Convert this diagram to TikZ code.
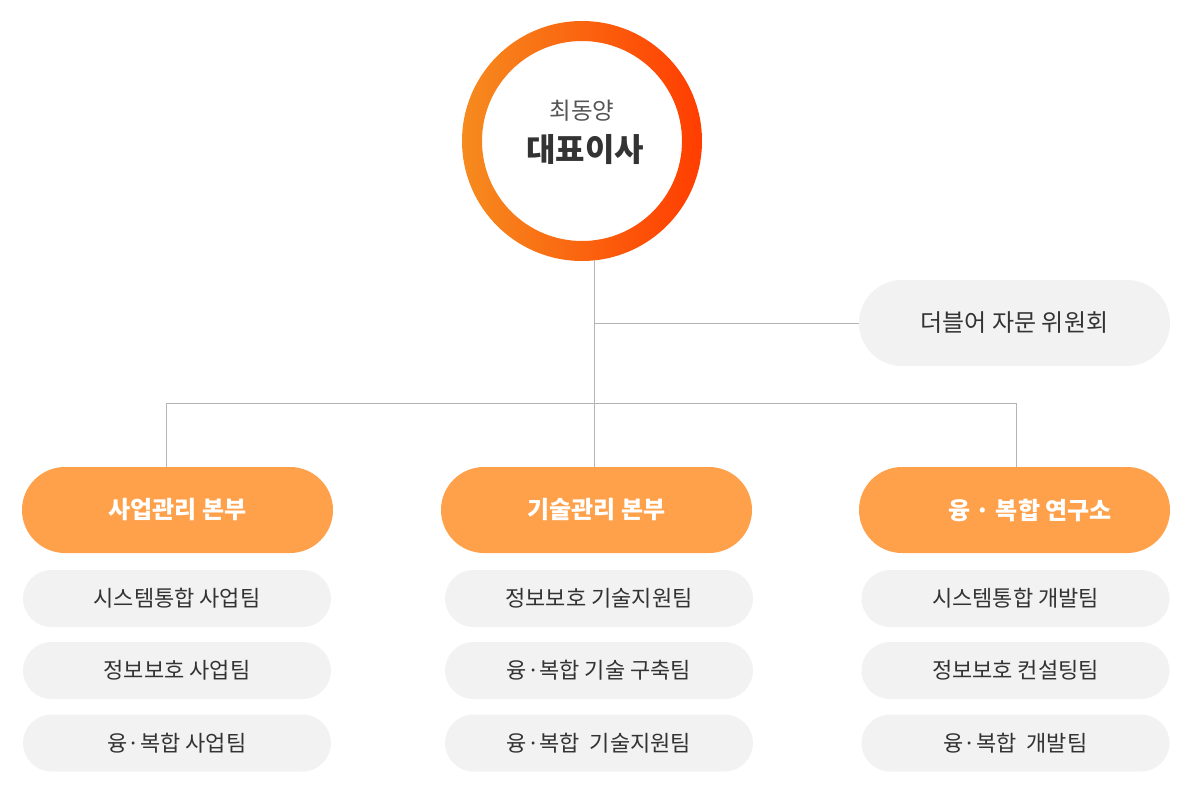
\documentclass[tikz,border=0pt]{standalone}
\usepackage{fontspec}
\setmainfont{Noto Sans CJK KR}
\definecolor{ringL}{HTML}{F68B1F}
\definecolor{ringR}{HTML}{FF3D00}
\definecolor{hqorange}{HTML}{FFA04B}
\definecolor{boxgray}{HTML}{F2F2F2}
\definecolor{linegray}{HTML}{B4B4B4}
\definecolor{textdark}{HTML}{333333}
\definecolor{namegray}{HTML}{555555}
\begin{document}
\begin{tikzpicture}[x=1pt,y=-1pt,
  conn/.style={draw=linegray, line width=1pt},
  hqbox/.style={rectangle, rounded corners=43pt, fill=hqorange, minimum width=311pt, minimum height=86pt, text=white, font=\fontsize{24}{28}\selectfont\bfseries, inner sep=0pt},
  advbox/.style={rectangle, rounded corners=43pt, fill=boxgray, minimum width=311pt, minimum height=86pt, text=textdark, font=\fontsize{24}{28}\selectfont, inner sep=0pt},
  teambox/.style={rectangle, rounded corners=28.5pt, fill=boxgray, minimum width=308pt, minimum height=57pt, text=textdark, font=\fontsize{22}{26}\selectfont, inner sep=0pt}]
\useasboundingbox (0,0) rectangle (1196,803);
% CEO ring
\node[circle, minimum size=240pt, inner sep=0pt] (ceo) at (582,141) {};
\shade[left color=ringL, right color=ringR, even odd rule] (ceo.center) circle (120pt) (ceo.center) circle (100pt);
\node[text=namegray, font=\fontsize{23.5}{27}\selectfont] (ceoname) at (582,111) {최동양};
\node[text=textdark, font=\fontsize{32}{36}\selectfont\bfseries] (ceotitle) at (585,150) {대표이사};
% boxes
\node[advbox] (adv) at (1014.5,323) {더블어 자문 위원회};
\node[hqbox] (hq1) at (177.5,510) {사업관리 본부};
\node[hqbox] (hq2) at (596.5,510) {기술관리 본부};
\node[hqbox] (hq3) at (1014.5,510) {\hspace*{31pt}융 · 복합 연구소};
\node[teambox] (t11) at (177,598.5) {시스템통합 사업팀};
\node[teambox] (t12) at (177,670.5) {정보보호 사업팀};
\node[teambox] (t13) at (177,743) {융·복합 사업팀};
\node[teambox] (t21) at (599,598.5) {정보보호 기술지원팀};
\node[teambox] (t22) at (599,670.5) {융·복합 기술 구축팀};
\node[teambox] (t23) at (599,743) {융·복합 \ 기술지원팀};
\node[teambox] (t31) at (1015.5,598.5) {시스템통합 개발팀};
\node[teambox] (t32) at (1015.5,670.5) {정보보호 컨설팅팀};
\node[teambox] (t33) at (1015.5,743) {융·복합 \ 개발팀};
% connectors
\coordinate (trunk) at (594,260);
\coordinate (b1) at (166,403);
\coordinate (b3) at (1016,403);
\draw[conn] (trunk) -- (trunk |- hq2.north);
\draw[conn] (trunk |- adv.west) -- (adv.west);
\draw[conn] (b1) -- (b3);
\draw[conn] (b1) -- (b1 |- hq1.north);
\draw[conn] (b3) -- (b3 |- hq3.north);
\end{tikzpicture}
\end{document}
